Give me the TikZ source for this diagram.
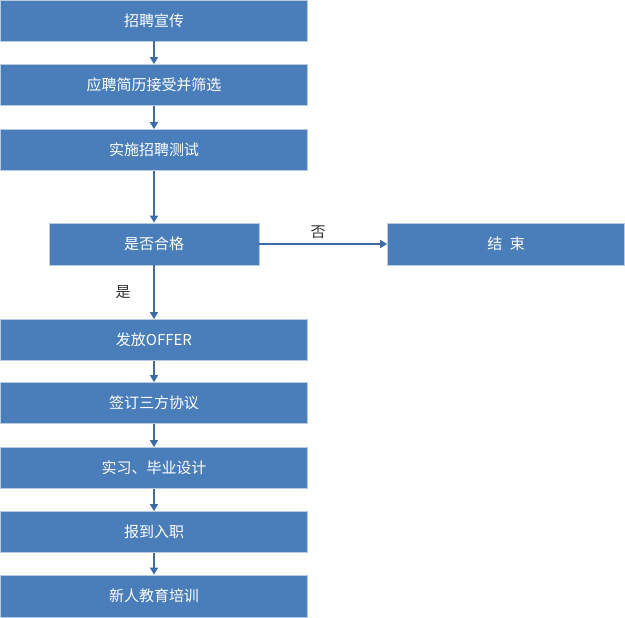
\documentclass[tikz,border=0pt]{standalone}
\usepackage{fontspec}
\newfontfamily\cjk{Noto Sans CJK SC}
\usetikzlibrary{arrows.meta}
\tikzset{
 box/.style={draw=white!60!boxc,line width=0.8pt,fill=boxc,text=white,inner sep=0pt,font=\cjk\fontsize{15}{18}\selectfont},
 arr/.style={draw=arrc,line width=1.6pt,-{Triangle[length=7pt,width=8pt]}},
 lab/.style={text=black!80,font=\cjk\fontsize{15}{18}\selectfont}
}
\definecolor{boxc}{HTML}{4A7EBB}
\definecolor{arrc}{HTML}{3C6BA5}
\begin{document}
\begin{tikzpicture}[x=1pt,y=1pt]
\useasboundingbox (0,0) rectangle (625,-618);
\node[box,minimum width=307,minimum height=41] (b1) at (154,-20.5) {招聘宣传};
\node[box,minimum width=307,minimum height=41] (b2) at (154,-85) {应聘简历接受并筛选};
\node[box,minimum width=307,minimum height=41] (b3) at (154,-150) {实施招聘测试};
\node[box,minimum width=210,minimum height=42] (b4) at (154,-244) {是否合格};
\node[box,minimum width=237,minimum height=42] (e) at (506,-244) {结\hspace{0.5em}束};
\node[box,minimum width=307,minimum height=41] (b5) at (154,-340) {发放OFFER};
\node[box,minimum width=307,minimum height=41] (b6) at (154,-403) {签订三方协议};
\node[box,minimum width=307,minimum height=41] (b7) at (154,-468) {实习、毕业设计};
\node[box,minimum width=307,minimum height=41] (b8) at (154,-532) {报到入职};
\node[box,minimum width=307,minimum height=42] (b9) at (154,-596) {新人教育培训};
\draw[arr] (b1) -- (b2);
\draw[arr] (b2) -- (b3);
\draw[arr] (b3) -- (b4);
\draw[arr] (b4) -- (b5);
\draw[arr] (b5) -- (b6);
\draw[arr] (b6) -- (b7);
\draw[arr] (b7) -- (b8);
\draw[arr] (b8) -- (b9);
\draw[arr] (b4) -- (e);
\node[lab] (no) at (318,-232) {否};
\node[lab] (yes) at (123,-292) {是};
\end{tikzpicture}
\end{document}
